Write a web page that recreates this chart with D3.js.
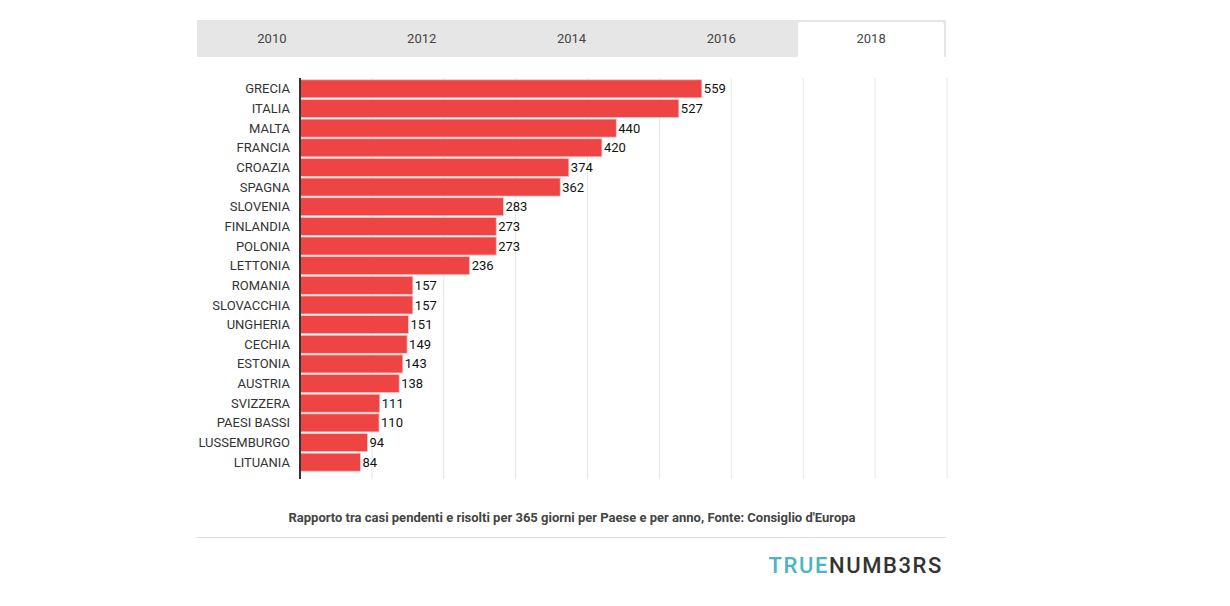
<!DOCTYPE html>
<html><head><meta charset="utf-8">
<script src="https://cdn.jsdelivr.net/npm/d3@7"></script>
<style>
body{margin:0;background:#fff;}
svg{display:block;font-family:Roboto, "Liberation Sans", sans-serif;}
</style></head>
<body><svg id="c" width="1230" height="606"></svg>
<script>
const years = ["2010","2012","2014","2016","2018"];
const activeYear = "2018";
const countries = ["GRECIA","ITALIA","MALTA","FRANCIA","CROAZIA","SPAGNA","SLOVENIA","FINLANDIA","POLONIA","LETTONIA","ROMANIA","SLOVACCHIA","UNGHERIA","CECHIA","ESTONIA","AUSTRIA","SVIZZERA","PAESI BASSI","LUSSEMBURGO","LITUANIA"];
const values = [559,527,440,420,374,362,283,273,273,236,157,157,151,149,143,138,111,110,94,84];
const gridTicks = [100,200,300,400,500,600,700,800,900];
const caption = "Rapporto tra casi pendenti e risolti per 365 giorni per Paese e per anno, Fonte: Consiglio d'Europa";

const svg = d3.select("#c");

// Tabs
const tabX = d3.scaleBand().domain(years).range([197, 946]);
svg.append("rect").attr("x",197).attr("y",20).attr("width",749).attr("height",37).attr("fill","#e6e6e6");
const act = tabX(activeYear);
svg.append("path")
  .attr("d", `M${act+2},57 V25 Q${act+2},22 ${act+5},22 H${act+tabX.bandwidth()-5} Q${act+tabX.bandwidth()-2},22 ${act+tabX.bandwidth()-2},25 V57 Z`)
  .attr("fill","#fff");
svg.selectAll("text.tab").data(years).join("text")
  .attr("x", d=>tabX(d)+tabX.bandwidth()/2).attr("y",43)
  .attr("text-anchor","middle").attr("font-size",13).attr("fill","#444")
  .text(d=>d);

// Chart
const x = d3.scaleLinear().domain([0,900]).range([300,947]);
const y = d3.scaleBand().domain(countries).range([79,472]).paddingInner(0.08).paddingOuter(0.04);

svg.append("g").selectAll("line").data(gridTicks).join("line")
  .attr("x1",d=>x(d)).attr("x2",d=>x(d)).attr("y1",78).attr("y2",479)
  .attr("stroke","#e6e6e6").attr("stroke-width",1);

svg.append("g").selectAll("rect").data(values).join("rect")
  .attr("x", x(0)).attr("y",(d,i)=>y(countries[i]))
  .attr("width",d=>x(d)-x(0)).attr("height",y.bandwidth())
  .attr("fill","#ee4444").attr("stroke","#f7c9c9").attr("stroke-width",0.8);

svg.append("g").selectAll("text").data(values).join("text")
  .attr("x",d=>x(d)+2).attr("y",(d,i)=>y(countries[i])+y.bandwidth()/2)
  .attr("dy","0.35em").attr("font-size",13).attr("fill","#111")
  .text(d=>d);

svg.append("g").selectAll("text").data(countries).join("text")
  .attr("x",290).attr("y",d=>y(d)+y.bandwidth()/2)
  .attr("dy","0.35em").attr("text-anchor","end").attr("font-size",13).attr("fill","#333")
  .text(d=>d);

svg.append("line").attr("x1",x(0)).attr("x2",x(0)).attr("y1",78).attr("y2",479)
  .attr("stroke","#333").attr("stroke-width",2);

// Caption
svg.append("text").attr("x",572).attr("y",522).attr("text-anchor","middle")
  .attr("font-size",13).attr("font-weight","bold").attr("fill","#444").text(caption);
svg.append("line").attr("x1",197).attr("x2",946).attr("y1",537.5).attr("y2",537.5)
  .attr("stroke","#dcdcdc");

// Logo
const logo = svg.append("text").attr("x",943).attr("y",573).attr("text-anchor","end")
  .attr("font-size",22).attr("font-weight",500).attr("letter-spacing",1.6);
logo.append("tspan").attr("fill","#4bb5c1").text("TRUE");
logo.append("tspan").attr("fill","#333").text("NUMB3RS");
</script></body></html>
